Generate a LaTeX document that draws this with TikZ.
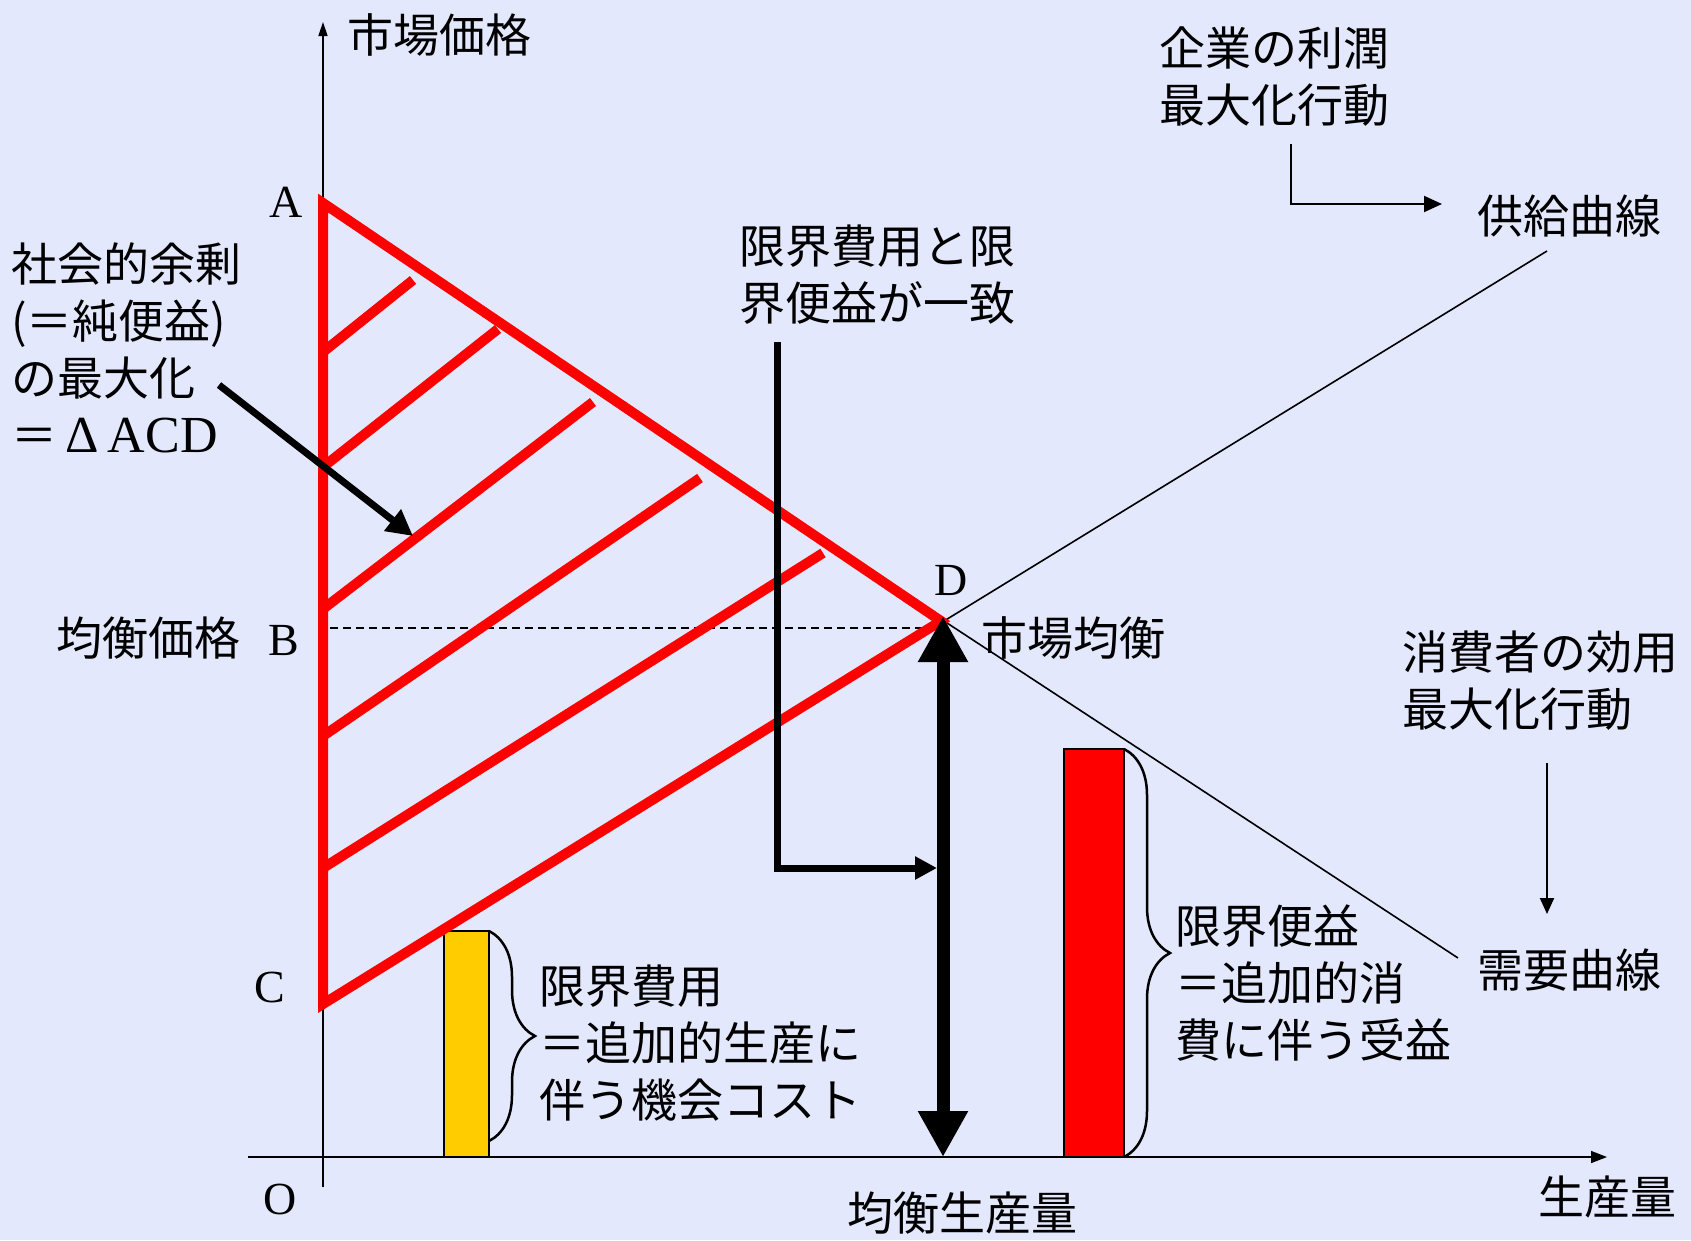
\documentclass[tikz,border=0pt]{standalone}
\usepackage{fontspec}
\setmainfont{Liberation Serif}
\newfontfamily\jp{Noto Sans CJK JP}
\usetikzlibrary{arrows.meta,decorations.pathreplacing}
\definecolor{bgc}{RGB}{227,232,252}
\definecolor{bary}{RGB}{255,204,0}
\definecolor{redc}{RGB}{255,0,0}
\begin{document}
\begin{tikzpicture}[x=1pt,y=-1pt,
  jt/.style={font=\jp\fontsize{46}{57}\selectfont, inner sep=0pt, anchor=west, align=left},
  lt/.style={font=\fontsize{46}{55}\selectfont, inner sep=0pt},
  redline/.style={draw=redc, line width=10pt, line join=miter},
  thinline/.style={line width=1.6pt},
  thickblk/.style={line width=7pt},
  bracestyle/.style={line width=2.5pt, decorate, decoration={brace, amplitude=46pt}}]
\fill[bgc] (0,0) rectangle (1691,1240);
\useasboundingbox (0,0) rectangle (1691,1240);

% key points
\coordinate (A) at (323,203);
\coordinate (C) at (323,1004);
\coordinate (D) at (941,621);
\coordinate (E) at (944,621);
\coordinate (Ytop) at (323,22);
\coordinate (Ybot) at (323,1187);
\coordinate (Xl) at (248,1157);
\coordinate (Xr) at (1607,1157);
\coordinate (Send) at (1547,251);
\coordinate (Dend) at (1458,958);
\coordinate (Bl) at (330,628);
\coordinate (Br) at (937,628);

% axes
\draw[thinline,-{Triangle[length=14pt,width=9pt]}] (Ybot) -- (Ytop);
\draw[thinline,-{Triangle[length=16pt,width=12pt]}] (Xl) -- (Xr);

% dashed equilibrium price
\draw[line width=1.5pt, dash pattern=on 8pt off 5pt] (Bl) -- (Br);

% supply and demand curves
\draw[thinline] (E) -- (Send);
\draw[thinline] (E) -- (Dend);

% bars
\draw[fill=bary, line width=2pt] (444,931) rectangle (489,1157);
\draw[fill=redc, line width=2pt] (1064,749) rectangle (1124,1157);

% braces
\coordinate (ybT) at (489,931);
\coordinate (ybB) at (489,1141);
\coordinate (rbT) at (1124,749);
\coordinate (rbB) at (1124,1157);
\draw[bracestyle] (ybT) -- (ybB);
\draw[bracestyle] (rbT) -- (rbB);

% red triangle and hatching
\draw[redline] (A) -- (D) -- (C) -- cycle;
\draw[redline] (323,352) -- (413,280);
\draw[redline] (323,467) -- (498,329);
\draw[redline] (323,609) -- (593,402);
\draw[redline] (323,736) -- (700,478);
\draw[redline] (323,868) -- (823,553);

% black arrows
\coordinate (la1) at (219,385);
\coordinate (la2) at (413,536);
\draw[thickblk,-{Triangle[length=26pt,width=26pt]}] (la1) -- (la2);
\coordinate (m1) at (777,342);
\coordinate (m2) at (777,868);
\coordinate (m3) at (937,868);
\draw[thickblk,line join=miter,-{Triangle[length=22pt,width=22pt]}] (m1) -- (m2) -- (m3);
\coordinate (qb) at (943,1157);
\coordinate (qt) at (943,616);
\draw[line width=13pt,{Triangle[length=46pt,width=47pt]}-{Triangle[length=46pt,width=47pt]}] (qb) -- (qt);

\coordinate (f1) at (1291,144);
\coordinate (f2) at (1291,204);
\coordinate (f3) at (1442,204);
\draw[line width=2pt,-{Triangle[length=18pt,width=16pt]}] (f1) -- (f2) -- (f3);
\coordinate (c1) at (1547,763);
\coordinate (c2) at (1547,914);
\draw[line width=2pt,-{Triangle[length=16pt,width=14pt]}] (c1) -- (c2);

% texts
\node[jt] (tPrice) at (347,35) {市場価格};
\node[lt] (lA) at (286,202) {A};
\node[jt] (tSurplus) at (11,348) {社会的余剰\\(＝純便益)\\の最大化\\＝{\rmfamily\fontsize{52}{57}\selectfont\,Δ\,ACD}};
\node[jt] (tBeq) at (56,638) {均衡価格};
\node[lt] (lB) at (284,640) {B};
\node[lt] (lC) at (270,987) {C};
\node[lt] (lO) at (280,1199) {O};
\node[jt] (tMatch) at (739,275) {限界費用と限\\界便益が一致};
\node[jt] (tFirm) at (1159,77) {企業の利潤\\最大化行動};
\node[jt] (tSupply) at (1477,216) {供給曲線};
\node[lt] (lD) at (951,580) {D};
\node[jt] (tEq) at (981,638) {市場均衡};
\node[jt] (tCons) at (1402,681) {消費者の効用\\最大化行動};
\node[jt] (tDemand) at (1477,970) {需要曲線};
\node[jt] (tMB) at (1175,983) {限界便益\\＝追加的消\\費に伴う受益};
\node[jt] (tMC) at (539,1043) {限界費用\\＝追加的生産に\\伴う機会コスト};
\node[jt,anchor=center] (tQeq) at (962,1213) {均衡生産量};
\node[jt,anchor=center] (tQ) at (1607,1197) {生産量};
\end{tikzpicture}
\end{document}
